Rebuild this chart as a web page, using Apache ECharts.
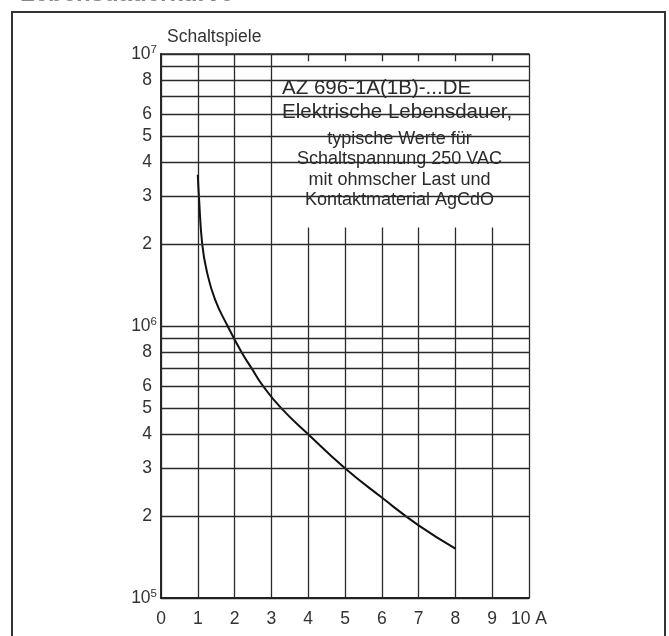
<!DOCTYPE html>
<html>
<head>
<meta charset="utf-8">
<script src="https://cdn.jsdelivr.net/npm/echarts@6/dist/echarts.min.js"></script>
<style>
html,body{margin:0;padding:0;background:#fff;}
#chart{width:669px;height:636px;}
</style>
</head>
<body>
<div id="chart"></div>
<script>
// ---- data ----
const xTicks = [0, 1, 2, 3, 4, 5, 6, 7, 8, 9, 10];
const xUnit = 'A';
const yName = 'Schaltspiele';
const yMinorValues = [2e5, 3e5, 4e5, 5e5, 6e5, 7e5, 8e5, 9e5, 2e6, 3e6, 4e6, 5e6, 6e6, 7e6, 8e6, 9e6];
const yMinorLabels = ['2', '3', '4', '5', '6', '', '8', '', '2', '3', '4', '5', '6', '', '8', ''];
const currentA = [1.0, 1.03, 1.12, 1.24, 1.47, 1.81, 2.19, 2.46, 2.78, 3.26, 4.0, 5.0, 6.0, 7.0, 8.0];
const cycles = [3.6e6, 3.0e6, 2.0e6, 1.6e6, 1.25e6, 1.0e6, 8e5, 7e5, 6e5, 5e5, 4e5, 3e5, 2.34e5, 1.85e5, 1.52e5];
const boxArea = [[3.15, 9.4e6], [9.9, 2.3e6]];
const headLines = ['AZ 696-1A(1B)-...DE', 'Elektrische Lebensdauer,'];
const noteLines = ['typische Werte für', 'Schaltspannung 250 VAC', 'mit ohmscher Last und', 'Kontaktmaterial AgCdO'];
const pageTitle = 'Lebensdauerkurve';

const FONT = '"Liberation Sans", Arial, Helvetica, sans-serif';
const INK = '#2a2a2a';
const LBL = 17.5;
const chart = echarts.init(document.getElementById('chart'), null, {renderer: 'canvas'});

const gridLineStyle = {color: INK, width: 1.3, type: 'solid'};

const graphics = [
  {type: 'rect', shape: {x: 12, y: 12, width: 653, height: 660}, style: {fill: 'none', stroke: '#333', lineWidth: 2}, z: 10},
  {type: 'text', x: 20, y: -6, style: {text: pageTitle, font: 'bold 24px ' + FONT, fill: '#888', verticalAlign: 'middle', align: 'left'}, z: 10}
];
headLines.forEach((t, i) => graphics.push({
  type: 'text', x: 282, y: 88 + i * 24,
  style: {text: t, font: '20.5px ' + FONT, fill: INK, align: 'left', verticalAlign: 'middle'}, z: 20
}));
noteLines.forEach((t, i) => graphics.push({
  type: 'text', x: 399.5, y: 139 + i * 20.5,
  style: {text: t, font: '18px ' + FONT, fill: INK, align: 'center', verticalAlign: 'middle'}, z: 20
}));

const option = {
  backgroundColor: '#fff',
  animation: false,
  textStyle: {fontFamily: FONT},
  grid: {left: 161, right: 140, top: 54, bottom: 38, containLabel: false},
  xAxis: [{
    type: 'value', min: 0, max: 10, interval: 1,
    axisLine: {show: true, lineStyle: {color: '#222', width: 2}},
    axisTick: {show: false},
    splitLine: {show: true, lineStyle: gridLineStyle},
    axisLabel: {
      fontSize: LBL, color: '#333', margin: 12, fontFamily: FONT,
      formatter: v => (v === xTicks[xTicks.length - 1] ? v + ' ' + xUnit : String(v))
    }
  }, {
    type: 'value', min: 0, max: 10, position: 'top',
    axisLine: {show: true, lineStyle: {color: INK, width: 1.5}},
    axisTick: {show: false}, axisLabel: {show: false}, splitLine: {show: false}
  }],
  yAxis: [{
    type: 'log', logBase: 10, min: 1e5, max: 1e7,
    name: yName, nameLocation: 'end', nameGap: 17,
    nameTextStyle: {fontSize: 17.5, color: '#333', align: 'left', verticalAlign: 'middle', padding: [0, 0, 0, 6], fontFamily: FONT},
    axisLine: {show: true, lineStyle: {color: '#222', width: 2}},
    axisTick: {show: false},
    splitLine: {show: true, lineStyle: gridLineStyle},
    axisLabel: {
      margin: 4, color: '#333',
      formatter: v => '{b|10}{s|' + Math.round(Math.log10(v)) + '}',
      rich: {
        b: {fontSize: LBL, lineHeight: 21, color: '#333', fontFamily: FONT},
        s: {fontSize: 11.5, lineHeight: 11, verticalAlign: 'top', color: '#333', fontFamily: FONT}
      }
    }
  }, {
    type: 'log', logBase: 10, min: 1e5, max: 1e7, position: 'right',
    axisLine: {show: true, lineStyle: {color: INK, width: 1.5}},
    axisTick: {show: false}, axisLabel: {show: false}, splitLine: {show: false}
  }],
  graphic: graphics,
  series: [
    {
      type: 'line', data: [], z: 1, silent: true,
      markLine: {
        silent: true, symbol: ['none', 'none'], animation: false,
        lineStyle: gridLineStyle,
        label: {show: true, position: 'start', distance: 9, fontSize: LBL, color: '#333', fontFamily: FONT,
                formatter: p => p.data.lbl},
        emphasis: {disabled: true},
        data: yMinorValues.map((v, i) => ({yAxis: v, lbl: yMinorLabels[i]}))
      }
    },
    {
      type: 'line', data: [], z: 2, silent: true,
      markArea: {
        silent: true,
        itemStyle: {color: '#fff', borderWidth: 0},
        emphasis: {disabled: true},
        data: [[{xAxis: boxArea[0][0], yAxis: boxArea[0][1]}, {xAxis: boxArea[1][0], yAxis: boxArea[1][1]}]]
      }
    },
    {
      type: 'line', z: 3,
      data: currentA.map((x, i) => [x, cycles[i]]),
      showSymbol: false, symbol: 'none',
      smooth: 0.5,
      lineStyle: {color: '#111', width: 2}
    }
  ]
};
chart.setOption(option);
</script>
</body>
</html>
